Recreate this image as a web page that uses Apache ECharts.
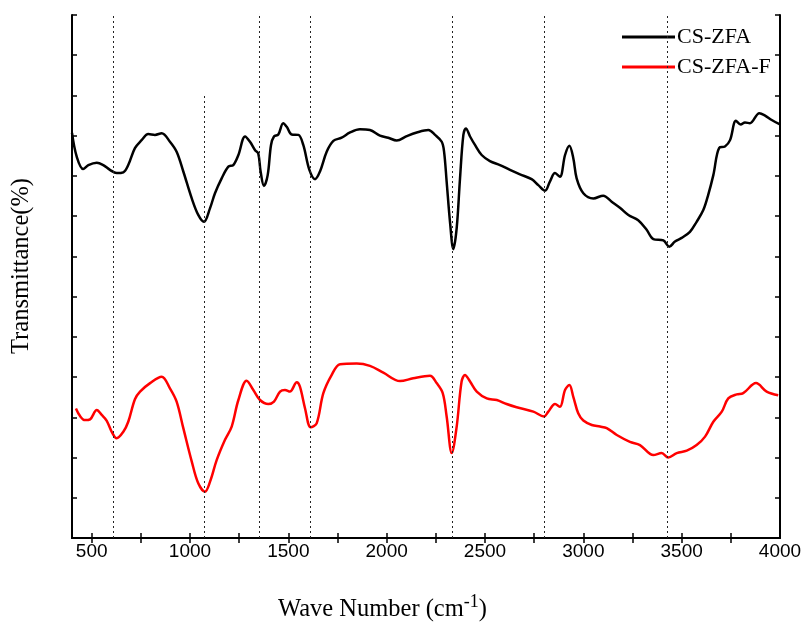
<!DOCTYPE html>
<html>
<head>
<meta charset="utf-8">
<script src="https://cdn.jsdelivr.net/npm/echarts@6/dist/echarts.min.js"></script>
<style>html,body{margin:0;padding:0;background:#fff;}#c{width:806px;height:632px;}</style>
</head>
<body>
<div id="c"></div>
<script>
// Wavenumbers (cm-1) and transmittance (arbitrary, offset)
var csZfaWave = [400,424,457,483,526,559,593,627,661,686,720,754,788,822,856,898,932,966,1009,1042,1071,1102,1127,1161,1195,1220,1246,1280,1305,1331,1347,1359,1376,1395,1412,1427,1449,1474,1492,1517,1551,1576,1607,1636,1661,1695,1729,1771,1814,1864,1915,1966,2008,2051,2102,2153,2212,2246,2280,2292,2305,2322,2339,2356,2373,2390,2403,2424,2449,2483,2525,2576,2627,2678,2737,2771,2805,2830,2856,2881,2907,2929,2949,2966,3000,3051,3101,3144,3186,3229,3279,3322,3356,3407,3437,3466,3500,3542,3576,3610,3635,3661,3691,3720,3746,3776,3800,3822,3847,3895,3924,3958,4000];
var csZfaT = [100.7,94.8,91.7,92.7,93.3,92.7,91.5,90.7,90.9,92.7,96.9,98.9,100.4,100.2,100.6,98.5,96.0,91.1,84.4,80.3,78.6,82.0,85.7,89.4,92.3,92.7,95.2,99.8,98.5,96.4,95.6,91.1,87.5,90.2,97.7,99.8,100.3,103.1,102.2,100.3,100.2,97.7,91.5,89.2,91.1,96.0,98.7,99.5,100.8,101.6,101.4,100.0,99.5,98.8,99.9,100.8,101.4,100.2,98.5,96.0,88.6,78.6,71.8,77.0,89.4,100.2,101.8,99.8,97.7,95.2,93.7,92.7,91.5,90.4,89.2,87.7,86.3,88.6,90.7,89.8,95.2,97.5,94.4,89.4,85.7,84.4,85.1,83.6,82.1,80.3,79.0,76.6,74.3,74.0,72.4,73.7,74.6,76.1,78.6,81.5,85.3,90.2,97.0,97.3,98.9,103.7,102.8,103.3,103.1,105.6,105.0,103.9,102.8];

var csZfaFWave = [420,441,466,492,526,551,576,602,627,661,686,720,746,797,856,898,932,966,1009,1042,1076,1102,1136,1178,1212,1246,1288,1322,1356,1398,1427,1458,1483,1508,1543,1559,1585,1614,1644,1678,1720,1763,1848,1915,1983,2068,2135,2220,2254,2285,2305,2331,2356,2381,2398,2424,2458,2509,2560,2610,2661,2746,2800,2822,2856,2881,2907,2929,2949,2974,3000,3043,3085,3119,3170,3237,3288,3356,3398,3432,3475,3526,3576,3619,3661,3704,3737,3780,3813,3878,3932,3991];
var csZfaFT = [32.2,30.3,29.3,29.5,31.8,30.6,29.2,26.4,24.8,26.4,28.9,34.5,36.4,38.5,40.1,37.2,33.9,27.3,19.0,13.6,11.5,14.0,19.4,24.4,27.7,34.3,39.1,36.8,34.3,33.3,33.9,36.4,36.8,36.4,38.7,37.6,32.2,27.5,28.5,36.0,40.5,43.2,43.4,42.8,41.1,39.0,39.7,40.3,38.5,36.0,30.2,21.1,27.7,38.9,40.5,38.9,36.4,34.7,34.3,33.3,32.5,31.4,30.2,31.4,33.3,32.6,36.8,38.0,35.1,31.0,29.2,28.1,27.7,27.3,25.6,23.9,23.1,20.6,21.1,20.0,21.1,21.7,23.1,25.2,28.9,31.4,34.7,35.7,36.0,38.5,36.4,35.5];

// Reference band positions (dotted lines) and their top values
var bandWave = [610,1073,1352,1610,2332,2800,3429];
var bandTop  = [130,110,130,130,130,130,130];

var xLabelValues = [500,1000,1500,2000,2500,3000,3500,4000];
var xTickValues = [500,750,1000,1250,1500,1750,2000,2250,2500,2750,3000,3250,3500,3750];

var seriesNames = ['CS-ZFA','CS-ZFA-F'];

function zip(a,b){var r=[];for(var i=0;i<a.length;i++)r.push([a[i],b[i]]);return r;}

var chart = echarts.init(document.getElementById('c'), null, {renderer:'canvas'});

var bandLines = bandWave.map(function(w,i){return [{coord:[w,0]},{coord:[w,bandTop[i]]}];});

var axisLineStyle = {color:'#000', width:2};
var option = {
  backgroundColor:'#fff',
  animation:false,
  grid:{left:72, top:15, right:26, bottom:94, containLabel:false},
  legend:{
    data:seriesNames, orient:'vertical', left:617, top:21, itemGap:8,
    itemWidth:53, itemHeight:3, icon:'rect',
    textStyle:{fontFamily:'Liberation Serif', fontSize:22, color:'#000', lineHeight:20, padding:[0,0,0,-3]}
  },
  graphic:[{
    type:'text', left:278, top:593,
    style:{text:'{a|Wave Number (cm}{b|-1}{a|)}', fill:'#000',
      rich:{
        a:{fontFamily:'Liberation Serif', fontSize:24.5, fill:'#000'},
        b:{fontFamily:'Liberation Serif', fontSize:18, fill:'#000', padding:[0,0,16,0]}
      }}
  },{
    type:'text', x:22, y:266, rotation:Math.PI/2,
    style:{text:'Transmittance(%)', fill:'#000', fontFamily:'Liberation Serif', fontSize:24.5,
      align:'center', verticalAlign:'middle'}
  }],
  xAxis:[{
    type:'value', min:400, max:4000, position:'bottom',
    axisLine:{show:true, lineStyle:axisLineStyle},
    axisTick:{show:true, inside:true, length:5, customValues:xTickValues, lineStyle:{color:'#000',width:1.5}},
    axisLabel:{show:true, customValues:xLabelValues, margin:4, color:'#000', fontFamily:'Liberation Sans', fontSize:19,
      formatter:function(v){return String(v);}},
    splitLine:{show:false}
  },{
    type:'value', min:400, max:4000, position:'top',
    axisLine:{show:true, lineStyle:axisLineStyle},
    axisTick:{show:true, inside:true, length:5, customValues:xTickValues, lineStyle:{color:'#000',width:1.5}},
    axisLabel:{show:false}, splitLine:{show:false}
  }],
  yAxis:[{
    type:'value', min:0, max:130, interval:10, position:'left',
    axisLine:{show:true, lineStyle:axisLineStyle},
    axisTick:{show:true, inside:true, length:5, lineStyle:{color:'#000',width:1.5}},
    axisLabel:{show:false}, splitLine:{show:false}
  },{
    type:'value', min:0, max:130, interval:10, position:'right',
    axisLine:{show:true, lineStyle:axisLineStyle},
    axisTick:{show:true, inside:true, length:5, lineStyle:{color:'#000',width:1.5}},
    axisLabel:{show:false}, splitLine:{show:false}
  }],
  series:[{
    name:'bands', type:'line', data:[], z:1, silent:true,
    markLine:{silent:true, symbol:'none', label:{show:false},
      lineStyle:{type:[2,3], color:'#222', width:1}, data:bandLines}
  },{
    name:seriesNames[0], type:'line', data:zip(csZfaWave,csZfaT), showSymbol:false, smooth:0.35, z:3,
    itemStyle:{color:'#000'}, lineStyle:{color:'#000', width:2.5}
  },{
    name:seriesNames[1], type:'line', data:zip(csZfaFWave,csZfaFT), showSymbol:false, smooth:0.35, z:3,
    itemStyle:{color:'#ff0000'}, lineStyle:{color:'#ff0000', width:2.5}
  }]
};
chart.setOption(option);
</script>
</body>
</html>
